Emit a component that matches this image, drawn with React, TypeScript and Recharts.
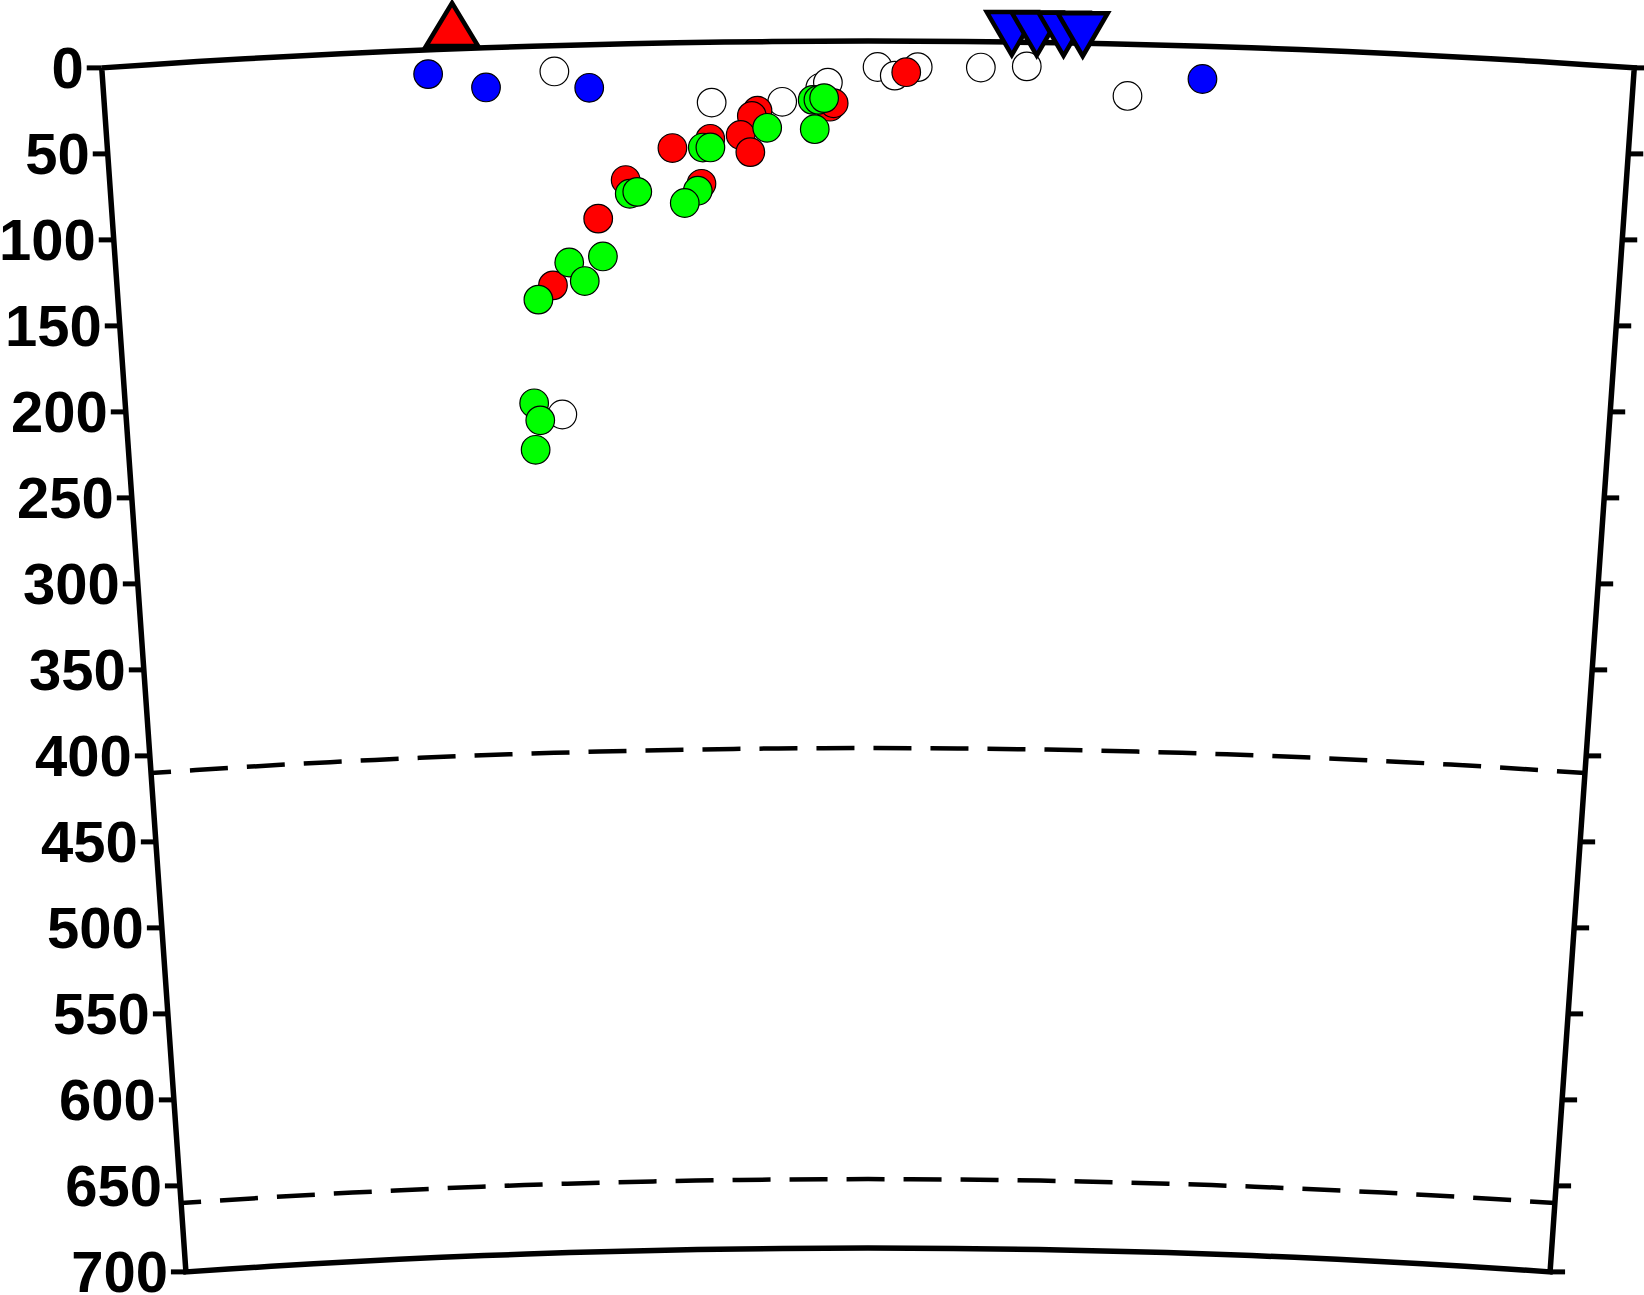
import React from 'react';
import { ScatterChart, Scatter, XAxis, YAxis } from 'recharts';

// ---- data (angle along profile in degrees from the left edge, depth in km) ----
const EARTH_RADIUS = 6371;
const SECTION_ANGLES = [0, 8];
const SECTION_DEPTHS = [0, 700];
const DEPTH_TICKS = [0, 50, 100, 150, 200, 250, 300, 350, 400, 450, 500, 550, 600, 650, 700];
const DISCONTINUITIES = [410, 660];

const VOLCANO = [[1.83, 0]];
const STATIONS = [[4.75, 0], [4.88, 0], [5.02, 0], [5.12, 0]];

const WHITE_EVENTS = [
  [2.36, 15], [3.18, 35], [3.55, 35], [3.75, 27], [3.79, 24], [4.05, 15],
  [4.14, 20], [4.26, 15], [4.59, 15], [4.83, 14], [5.36, 30], [2.35, 214],
];
const BLUE_EVENTS = [[1.7, 14], [2.0, 23], [2.54, 25], [5.75, 19]];
const RED_EVENTS = [
  [4.2, 18], [3.8, 38], [3.82, 36], [3.42, 40], [3.39, 43], [3.33, 54], [3.38, 64],
  [3.17, 56], [2.97, 61], [2.72, 79], [3.12, 82], [2.57, 101], [2.32, 139],
];
const GREEN_EVENTS = [
  [3.71, 34], [3.74, 34], [3.77, 33], [3.72, 51], [3.47, 50], [3.13, 61], [3.17, 61],
  [2.74, 87], [2.78, 86], [3.1, 86], [3.03, 93], [2.59, 123], [2.41, 126], [2.49, 137],
  [2.24, 147], [2.2, 207], [2.23, 217], [2.2, 234],
];

// ---- layout ----
const W = 1644;
const H = 1295;
const PX_PER_KM = 1.7242;
const CENTER_PX = 868;
const CENTER_PY = 11026;
const X_DOMAIN = [-CENTER_PX / PX_PER_KM, (W - CENTER_PX) / PX_PER_KM];
const Y_DOMAIN = [(CENTER_PY - H) / PX_PER_KM, CENTER_PY / PX_PER_KM];
const MID_ANGLE = (SECTION_ANGLES[0] + SECTION_ANGLES[1]) / 2;

const toXY = (ang: number, depth: number, extra: any = {}) => {
  const t = ((ang - MID_ANGLE) * Math.PI) / 180;
  const r = EARTH_RADIUS - depth;
  return { x: r * Math.sin(t), y: r * Math.cos(t), ...extra };
};

const arc = (depth: number, a0: number, a1: number) => {
  const pts: any[] = [];
  const n = 32;
  for (let i = 0; i <= n; i++) pts.push(toXY(a0 + ((a1 - a0) * i) / n, depth));
  return pts;
};

const [A0, A1] = SECTION_ANGLES;
const [D0, D1] = SECTION_DEPTHS;
const frameData = [
  ...arc(D0, A0, A1),
  toXY(A1, D1),
  ...arc(D1, A1, A0),
  toXY(A0, D0),
];

const leftTicks = DEPTH_TICKS.map((d) => toXY(A0, d, { label: String(d) }));
const rightTicks = DEPTH_TICKS.map((d) => toXY(A1, d));
const toPts = (arr: number[][]) => arr.map(([a, d]) => toXY(a, d));

const none = () => <g />;

const circleShape = (fill: string) => (p: any) => (
  <circle cx={p.cx} cy={p.cy} r={14.3} fill={fill} stroke="#000" strokeWidth={1.2} />
);

const volcanoShape = (p: any) => (
  <polygon
    points={`${p.cx - 26},${p.cy - 3} ${p.cx + 26},${p.cy - 3} ${p.cx},${p.cy - 46}`}
    fill="#ff0000"
    stroke="#000"
    strokeWidth={4.5}
    strokeLinejoin="miter"
  />
);

const stationShape = (p: any) => (
  <polygon
    points={`${p.cx - 25},${p.cy - 30} ${p.cx + 25},${p.cy - 30} ${p.cx},${p.cy + 13}`}
    fill="#0000ff"
    stroke="#000"
    strokeWidth={4.5}
    strokeLinejoin="miter"
  />
);

const leftTickShape = (p: any) => (
  <g>
    <line x1={p.cx - 15} y1={p.cy} x2={p.cx} y2={p.cy} stroke="#000" strokeWidth={5} />
    <text
      x={p.cx - 18}
      y={p.cy + 20}
      textAnchor="end"
      fontFamily="'Liberation Sans', Arial, sans-serif"
      fontWeight="bold"
      fontSize={58}
      fill="#000"
    >
      {p.payload.label}
    </text>
  </g>
);

const rightTickShape = (p: any) => (
  <line x1={p.cx} y1={p.cy} x2={p.cx + 15} y2={p.cy} stroke="#000" strokeWidth={5} />
);

export default function App() {
  return (
    <div style={{ position: 'absolute', left: 0, top: 0, background: '#fff' }}>
      <ScatterChart width={W} height={H} margin={{ top: 0, right: 0, bottom: 0, left: 0 }}>
        <XAxis type="number" dataKey="x" domain={X_DOMAIN} hide allowDataOverflow />
        <YAxis type="number" dataKey="y" domain={Y_DOMAIN} hide allowDataOverflow />
        {DISCONTINUITIES.map((d) => (
          <Scatter
            key={'disc' + d}
            data={arc(d, A0, A1)}
            shape={none}
            line={{ stroke: '#000', strokeWidth: 4.5, strokeDasharray: '38 19', strokeDashoffset: 18 }}
            lineType="joint"
            isAnimationActive={false}
            legendType="none"
          />
        ))}
        <Scatter
          data={frameData}
          shape={none}
          line={{ stroke: '#000', strokeWidth: 5.5, strokeLinejoin: 'miter' }}
          lineType="joint"
          isAnimationActive={false}
          legendType="none"
        />
        <Scatter data={leftTicks} shape={leftTickShape} isAnimationActive={false} legendType="none" />
        <Scatter data={rightTicks} shape={rightTickShape} isAnimationActive={false} legendType="none" />
        <Scatter data={toPts(WHITE_EVENTS)} shape={circleShape('#ffffff')} isAnimationActive={false} />
        <Scatter data={toPts(BLUE_EVENTS)} shape={circleShape('#0000ff')} isAnimationActive={false} />
        <Scatter data={toPts(RED_EVENTS)} shape={circleShape('#ff0000')} isAnimationActive={false} />
        <Scatter data={toPts(GREEN_EVENTS)} shape={circleShape('#00ff00')} isAnimationActive={false} />
        <Scatter data={toPts(VOLCANO)} shape={volcanoShape} isAnimationActive={false} />
        <Scatter data={toPts(STATIONS)} shape={stationShape} isAnimationActive={false} />
      </ScatterChart>
    </div>
  );
}
